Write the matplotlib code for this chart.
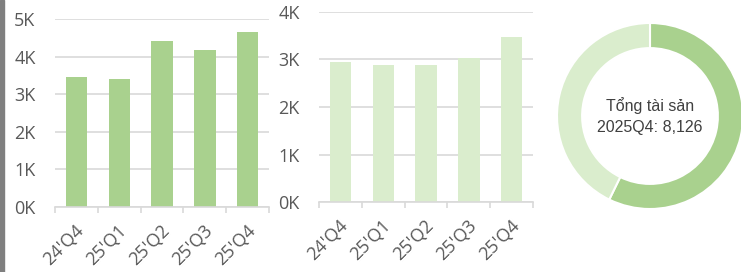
import matplotlib

matplotlib.use("Agg")
import matplotlib.pyplot as plt
import matplotlib.transforms as mtransforms
from matplotlib.patches import Rectangle
from matplotlib.ticker import FuncFormatter, MultipleLocator

# data
quarters = ["24'Q4", "25'Q1", "25'Q2", "25'Q3", "25'Q4"]
left_values = [3450, 3410, 4420, 4180, 4650]
right_values = [2950, 2880, 2880, 3030, 3476]
donut_values = [4650, 3476]
center_label = "Tổng tài sản\n2025Q4: 8,126"

DARK = "#A9D18E"
LIGHT = "#DAEDCD"
GRID = "#D9D9D9"
TEXT = "#595959"

plt.rcParams["font.family"] = ["Open Sans", "DejaVu Sans"]

W, H = 741, 272
fig = plt.figure(figsize=(W / 100, H / 100), dpi=100)


def k_fmt(v, _pos):
    return f"{int(round(v / 1000))}K"


def bar_panel(rect, values, color, ymax):
    ax = fig.add_axes(rect)
    x = range(len(values))
    ax.bar(x, values, width=0.5, color=color, zorder=2)
    ax.set_xlim(-0.5, len(values) - 0.5)
    ax.set_ylim(0, ymax)
    ax.yaxis.set_major_locator(MultipleLocator(1000))
    ax.yaxis.set_major_formatter(FuncFormatter(k_fmt))
    ax.grid(axis="y", color=GRID, linewidth=1.2, zorder=0)
    for side in ("top", "right", "left"):
        ax.spines[side].set_visible(False)
    ax.spines["bottom"].set_color(GRID)
    ax.spines["bottom"].set_linewidth(1.2)
    ax.tick_params(axis="y", length=0, pad=14, labelsize=13, labelcolor=TEXT)
    # category ticks sit on the boundaries, labels at the centres
    ax.set_xticks([i - 0.5 for i in range(len(values) + 1)])
    ax.set_xticklabels([])
    ax.tick_params(axis="x", which="major", length=4, color=GRID, width=1.2)
    ax.set_xticks(list(x), minor=True)
    ax.set_xticklabels(quarters, minor=True, rotation=45, ha="right",
                       va="center", rotation_mode="anchor")
    ax.tick_params(axis="x", which="minor", length=0, pad=15,
                   labelsize=13, labelcolor=TEXT)
    shift = mtransforms.ScaledTranslation(5 / 100, 0, fig.dpi_scale_trans)
    for lab in ax.get_xticklabels(minor=True):
        lab.set_transform(lab.get_transform() + shift)
    return ax


bar_panel([55 / W, 1 - 207 / H, 214 / W, 188 / H], left_values, DARK, 5000)
bar_panel([319 / W, 1 - 202.3 / H, 214 / W, 190.6 / H], right_values, LIGHT, 4000)

# donut
r = 93
ax3 = fig.add_axes([(650 - r) / W, (H - 116 - r) / H, 2 * r / W, 2 * r / H])
ax3.pie(donut_values, colors=[DARK, LIGHT], startangle=90, counterclock=False,
        radius=1, wedgeprops=dict(width=0.27, edgecolor="white", linewidth=1.5))
ax3.set_xlim(-1, 1)
ax3.set_ylim(-1, 1)
ax3.set_aspect("equal")
ax3.axis("off")
ax3.text(0, 0, center_label, ha="center", va="center", fontsize=11.5,
         color="#404040", linespacing=1.45,
         family=["Liberation Sans", "DejaVu Sans"])

# grey strip on the left edge
fig.patches.append(Rectangle((0, 0), 3.5 / W, 1, transform=fig.transFigure,
                             color="#7F7F7F", zorder=0))

fig.savefig("out.png", dpi=100)
